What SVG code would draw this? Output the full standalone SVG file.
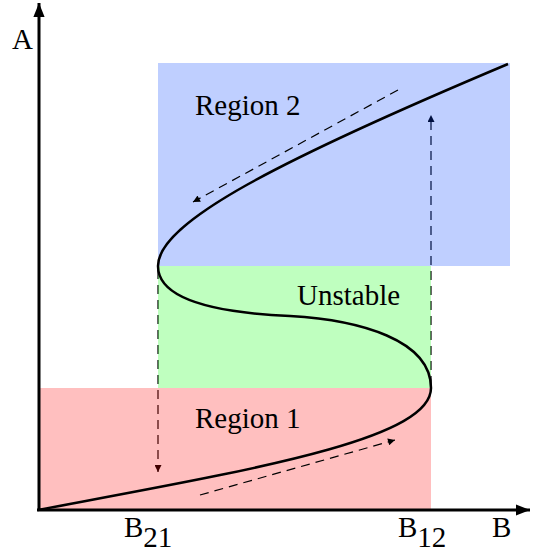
<svg xmlns="http://www.w3.org/2000/svg" width="534" height="554" viewBox="0 0 534 554">
<style>
text{font-family:"Liberation Serif","Times New Roman",serif;fill:#000;font-size:29px}
.dash{fill:none;stroke:#000;stroke-width:1.2;stroke-dasharray:9,6}
</style>
<defs>
<marker id="ah" viewBox="0 0 10 10" refX="10" refY="5" markerWidth="10" markerHeight="7" orient="auto" markerUnits="userSpaceOnUse">
<path d="M0,0 L10,5 L0,10 z" fill="#000"/>
</marker>
<marker id="axh" viewBox="0 0 10 10" refX="10" refY="5" markerWidth="16" markerHeight="14" orient="auto" markerUnits="userSpaceOnUse">
<path d="M0,1 L10,5 L0,9 z" fill="#000"/>
</marker>
</defs>
<g id="connectors">
<path class="dash" d="M158,270 V472" marker-end="url(#ah)"/>
<path class="dash" d="M431,385 V115" marker-end="url(#ah)"/>
</g>
<g id="region1"><rect x="38" y="388" width="393" height="122" fill="#ff0000" fill-opacity="0.25"/></g>
<g id="unstable"><rect x="158" y="266" width="273" height="122" fill="#00ff00" fill-opacity="0.25"/></g>
<g id="region2"><rect x="158" y="63" width="352" height="203" fill="#0040ff" fill-opacity="0.25"/></g>
<g id="axes">
<path d="M39,511 V3" stroke="#000" stroke-width="3" fill="none" marker-end="url(#axh)"/>
<path d="M37,510 H530" stroke="#000" stroke-width="3" fill="none" marker-end="url(#axh)"/>
</g>
<g id="curve">
<path d="M38,510 C250,470 431,440 431,388 C431,340 360,320 290,316 C200,312 158,295 158,266 C158,222 280,160 508,64" fill="none" stroke="#000" stroke-width="2.5"/>
</g>
<g id="flow">
<path class="dash" d="M200,495 L395,440" marker-end="url(#ah)"/>
<path class="dash" d="M398,90 L193,202" marker-end="url(#ah)"/>
</g>
<g id="labels">
<text x="12" y="49">A</text>
<text x="195" y="115">Region 2</text>
<text x="297" y="305">Unstable</text>
<text x="195" y="428">Region 1</text>
<text x="124" y="537">B<tspan dy="10">21</tspan></text>
<text x="398" y="537">B<tspan dy="10">12</tspan></text>
<text x="492" y="537">B</text>
</g>
</svg>
